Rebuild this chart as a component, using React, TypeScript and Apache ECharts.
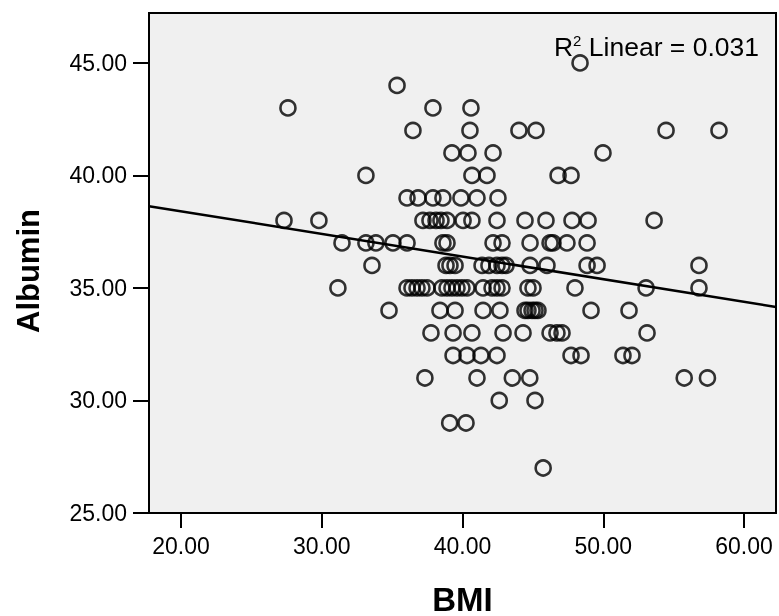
import { useEffect, useRef } from "react";
import * as echarts from "echarts";

// Albumin levels (y) with the BMI values (x) of the cases at each level
const albuminLevels = [45, 44, 43, 42, 41, 40, 39, 38, 37, 36, 35, 34, 33, 32, 31, 30, 29, 27];
const bmiAt45 = [48.35];
const bmiAt44 = [35.35];
const bmiAt43 = [27.6, 37.9, 40.6];
const bmiAt42 = [36.48, 40.53, 44.01, 45.22, 54.46, 58.22];
const bmiAt41 = [39.25, 40.39, 42.17, 49.98];
const bmiAt40 = [33.14, 40.67, 41.74, 46.79, 47.71];
const bmiAt39 = [36.06, 36.84, 37.9, 38.61, 39.89, 41.03, 42.52];
const bmiAt38 = [27.32, 29.8, 37.19, 37.69, 38.12, 38.47, 38.9, 40.04, 40.67, 42.45, 44.44, 45.93, 47.78, 48.92, 53.61];
const bmiAt37 = [31.44, 33.14, 33.85, 35.06, 36.06, 38.61, 38.9, 42.17, 42.81, 44.8, 46.22, 46.43, 47.42, 48.85];
const bmiAt36 = [33.57, 38.83, 39.11, 39.47, 41.39, 41.88, 42.45, 42.81, 43.09, 44.8, 46.0, 48.85, 49.56, 56.8];
const bmiAt35 = [31.15, 36.06, 36.41, 36.77, 37.12, 37.48, 38.54, 38.9, 39.25, 39.61, 39.96, 40.32, 41.46, 42.1, 42.45, 42.81, 44.65, 45.01, 47.99, 53.04, 56.8];
const bmiAt34 = [34.78, 38.4, 39.47, 41.46, 42.66, 44.44, 44.65, 44.94, 45.15, 45.36, 49.13, 51.83];
const bmiAt33 = [37.76, 39.33, 40.67, 42.88, 44.3, 46.22, 46.71, 47.07, 53.11];
const bmiAt32 = [39.33, 40.32, 41.31, 42.45, 47.71, 48.42, 51.4, 52.04];
const bmiAt31 = [37.33, 41.03, 43.54, 44.78, 55.75, 57.4];
const bmiAt30 = [42.61, 45.15];
const bmiAt29 = [39.09, 40.25];
const bmiAt27 = [45.73];

const bmiByLevel = [
  bmiAt45, bmiAt44, bmiAt43, bmiAt42, bmiAt41, bmiAt40, bmiAt39, bmiAt38, bmiAt37,
  bmiAt36, bmiAt35, bmiAt34, bmiAt33, bmiAt32, bmiAt31, bmiAt30, bmiAt29, bmiAt27,
];

const xTicks = [20, 30, 40, 50, 60];
const yTicks = [25, 30, 35, 40, 45];
const xRange = [17.73, 62.27];
const yRange = [25, 47.22];

// Fit line
const fitIntercept = 40.42;
const fitSlope = -0.1006;
const rSquared = "0.031";

const xTitle = "BMI";
const yTitle = "Albumin";

const FONT = 'Arial, "Liberation Sans", sans-serif';

export default function App() {
  const ref = useRef<HTMLDivElement>(null);

  useEffect(() => {
    const chart = echarts.init(ref.current!, null, { renderer: "svg" });

    const points: number[][] = [];
    albuminLevels.forEach((alb, i) => {
      bmiByLevel[i].forEach((bmi) => points.push([bmi, alb]));
    });
    const fitLine = xRange.map((x) => [x, fitIntercept + fitSlope * x]);

    chart.setOption({
      animation: false,
      textStyle: { fontFamily: FONT, color: "#000" },
      grid: {
        left: 149,
        right: 3,
        top: 13,
        bottom: 103,
        show: true,
        backgroundColor: "#f0f0f0",
        borderColor: "#000",
        borderWidth: 2,
        containLabel: false,
        outerBoundsMode: "none",
      },
      xAxis: {
        type: "value",
        min: xRange[0],
        max: xRange[1],
        name: xTitle,
        nameLocation: "middle",
        nameGap: 71,
        nameTextStyle: { fontSize: 33, lineHeight: 30, fontWeight: "bold", color: "#000", fontFamily: FONT },
        axisLine: { show: true, onZero: false, lineStyle: { color: "#000", width: 2 } },
        axisTick: { show: true, length: 15, lineStyle: { color: "#000", width: 2 }, customValues: xTicks },
        axisLabel: {
          customValues: xTicks,
          formatter: (v: number) => v.toFixed(2),
          fontSize: 23,
          color: "#000",
          margin: 21,
          fontFamily: FONT,
        },
        splitLine: { show: false },
      },
      yAxis: {
        type: "value",
        min: yRange[0],
        max: yRange[1],
        axisLine: { show: true, onZero: false, lineStyle: { color: "#000", width: 2 } },
        axisTick: { show: true, length: 16, lineStyle: { color: "#000", width: 2 }, customValues: yTicks },
        axisLabel: {
          customValues: yTicks,
          formatter: (v: number) => v.toFixed(2),
          fontSize: 23,
          color: "#000",
          margin: 22,
          fontFamily: FONT,
        },
        splitLine: { show: false },
      },
      graphic: [
        {
          type: "text",
          x: 28,
          y: 271,
          rotation: Math.PI / 2,
          style: {
            text: yTitle,
            fontSize: 31,
            fontWeight: "bold",
            fontFamily: FONT,
            fill: "#000",
            align: "center",
            verticalAlign: "middle",
          },
        },
        {
          type: "text",
          right: 20,
          top: 33,
          style: {
            text: "{r|R}{s|2}{r| Linear = " + rSquared + "}",
            rich: {
              r: { fontSize: 26.5, fontFamily: FONT, fill: "#000" },
              s: { fontSize: 15, fontFamily: FONT, fill: "#000", verticalAlign: "top", padding: [0, 0, 11, 0] },
            },
          },
        },
      ],
      series: [
        {
          type: "line",
          data: fitLine,
          showSymbol: false,
          symbol: "none",
          lineStyle: { color: "#000", width: 2.5 },
          z: 1,
        },
        {
          type: "scatter",
          data: points,
          symbol: "circle",
          symbolSize: 15,
          itemStyle: { color: "rgba(0,0,0,0)", borderColor: "#000", borderWidth: 2.6 },
          z: 2,
        },
      ],
    });

    return () => chart.dispose();
  }, []);

  return <div ref={ref} style={{ position: "fixed", left: 0, top: 0, width: 779, height: 616 }} />;
}
